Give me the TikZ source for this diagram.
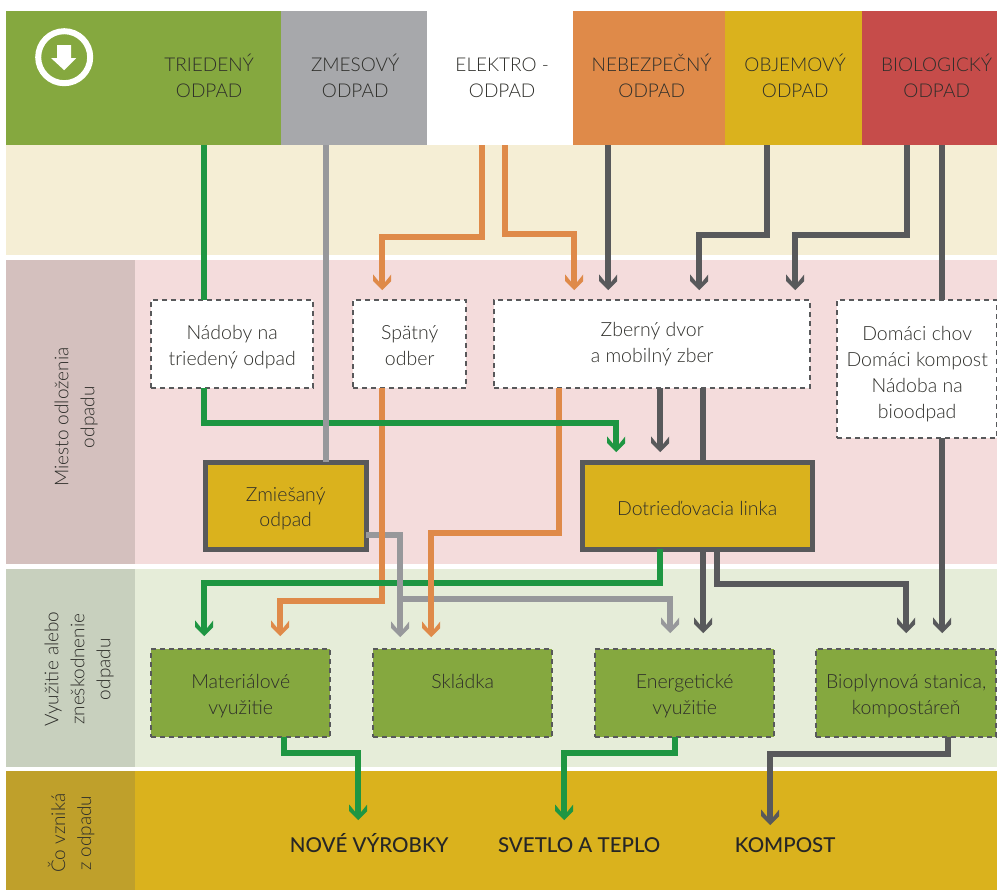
\documentclass[tikz,border=0pt]{standalone}
\usepackage{fontspec}
\setmainfont{Lato}[UprightFont=* Light]
\newfontfamily\strongfont{Lato}[UprightFont=* Medium]
\usetikzlibrary{arrows.meta}
\definecolor{hdrgreen}{HTML}{85A83F}
\definecolor{hdrgrey}{HTML}{A7A8AB}
\definecolor{hdrorange}{HTML}{DF8A49}
\definecolor{hdryellow}{HTML}{DAB21D}
\definecolor{hdrred}{HTML}{C64C4A}
\definecolor{bandcream}{HTML}{F5EED5}
\definecolor{bandpink}{HTML}{F4DCDC}
\definecolor{sidepink}{HTML}{D4C0BE}
\definecolor{bandgreen}{HTML}{E6EDD9}
\definecolor{sidegreen}{HTML}{C8D0BE}
\definecolor{sideyellow}{HTML}{BFA02B}
\definecolor{linegreen}{HTML}{1E9642}
\definecolor{linegrey}{HTML}{97989B}
\definecolor{linedark}{HTML}{58595B}
\definecolor{textdark}{HTML}{2E2E2A}
\pgfdeclarearrow{
    name=Chevron,
    setup code={
        \pgfarrowssettipend{0pt}
        \pgfarrowssetbackend{-15.7pt}
        \pgfarrowssetlineend{-8pt}
        \pgfarrowssetvisualbackend{-8pt}
    },
    drawing code={
        \pgfpathmoveto{\pgfqpoint{0pt}{0pt}}
        \pgfpathlineto{\pgfqpoint{-9pt}{9pt}}
        \pgfpathlineto{\pgfqpoint{-15.7pt}{9pt}}
        \pgfpathlineto{\pgfqpoint{-8.3pt}{3pt}}
        \pgfpathlineto{\pgfqpoint{-8.3pt}{-3pt}}
        \pgfpathlineto{\pgfqpoint{-15.7pt}{-9pt}}
        \pgfpathlineto{\pgfqpoint{-9pt}{-9pt}}
        \pgfpathclose
        \pgfusepathqfill
    }
}
\newcommand{\twolines}[3][16]{\rule{0pt}{#1pt}\smash{#2}\\\smash{#3}}
\begin{document}
\begin{tikzpicture}[x=1pt, y=-1pt,
    flat/.style={inner sep=0, outer sep=0, minimum width=#1},
    hdr/.style={flat=#1, minimum height=134},
    hdrtext/.style={inner sep=0, align=center, text=textdark, font=\fontsize{19}{26}\selectfont},
    band/.style={flat=#1, anchor=west},
    sidetext/.style={rotate=90, align=center, text=textdark, font=\fontsize{19}{26}\selectfont},
    dashbox/.style={flat=#1, draw=linedark, line width=2.4, dash pattern=on 5 off 4, fill=white, minimum height=88, align=center, text=textdark, font=\fontsize{19.5}{26}\selectfont},
    greenbox/.style={dashbox=#1, fill=hdrgreen},
    yellowbox/.style={flat=#1, draw=linedark, line width=5, fill=hdryellow, minimum height=87, align=center, text=textdark, font=\fontsize{19.5}{25}\selectfont},
    product/.style={inner sep=0, outer sep=0, minimum height=30, text height=15, text depth=0, text=black!85, font=\strongfont\fontsize{20.5}{26}\selectfont},
    conn/.style={line width=6},
    arrowed/.style={conn, shorten >=#1, -Chevron},
]
    \useasboundingbox (-0.2,-0.2) rectangle (996.8,889.8);

    \node[hdr=130, fill=hdrgreen] (hdricon) at (71,78) {};
    \node[hdr=145, fill=hdrgreen] (hdrtriedeny) at (208.5,78) {};
    \node[hdr=146, fill=hdrgrey] (hdrzmesovy) at (354,78) {};
    \node[hdr=146] (hdrelektro) at (500,78) {};
    \node[hdr=152, fill=hdrorange] (hdrnebezp) at (649,78) {};
    \node[hdr=137, fill=hdryellow] (hdrobjem) at (793.5,78) {};
    \node[hdr=135, fill=hdrred] (hdrbio) at (929.5,78) {};

    \node[hdrtext] (txttriedeny) at (209,84) {\smash{TRIEDENÝ}\\ODPAD};
    \node[hdrtext] (txtzmesovy) at (355,84) {\smash{ZMESOVÝ}\\ODPAD};
    \node[hdrtext] (txtelektro) at (502,84) {\smash{ELEKTRO -}\\ODPAD};
    \node[hdrtext] (txtnebezp) at (651.5,84) {\smash{NEBEZPEČNÝ}\\ODPAD};
    \node[hdrtext] (txtobjem) at (795,84) {\smash{OBJEMOVÝ}\\ODPAD};
    \node[hdrtext] (txtbio) at (936.5,84) {\smash{BIOLOGICKÝ}\\ODPAD};

    \node[circle, draw=white, line width=6, minimum size=52, inner sep=0] (iconring) at (64,57) {};
    \fill[white] (57,45) -- (71,45) -- (71,58) -- (76,58) -- (64,70) -- (51,58) -- (57,58) -- cycle;

    \node[band=991, fill=bandcream, minimum height=110] (bandtop) at (6,200) {};
    \node[band=862, fill=bandpink, minimum height=304] (bandmiesto) at (135,412) {};
    \node[band=129, fill=sidepink, minimum height=304] (sidemiesto) at (6,412) {};
    \node[band=862, fill=bandgreen, minimum height=198] (bandvyuzitie) at (135,668) {};
    \node[band=129, fill=sidegreen, minimum height=198] (sidevyuzitie) at (6,668) {};
    \node[band=862, fill=hdryellow, minimum height=119] (bandvznika) at (135,830.5) {};
    \node[band=129, fill=sideyellow, minimum height=119] (sidevznika) at (6,830.5) {};

    \node[sidetext] (txtmiesto) at (76,417) {Miesto odloženia\\odpadu};
    \node[sidetext] (txtvyuzitie) at (79,669) {Využitie alebo\\zneškodnenie\\odpadu};
    \node[sidetext] (txtvznika) at (71,833) {Čo vzniká\\z odpadu};

    \node[dashbox=162] (nadoby) at (232,344) {\twolines{Nádoby na}{triedený odpad}};
    \node[dashbox=113] (spatny) at (409.5,344) {\twolines{Spätný}{odber}};
    \node[dashbox=316] (zberny) at (652,344) {\twolines[10]{Zberný dvor}{a mobilný zber}};
    \node[dashbox=160, minimum height=138] (domaci) at (917,369) {\rule{0pt}{24pt}Domáci chov\\Domáci kompost\\Nádoba na\\bioodpad};

    \node[yellowbox=161] (zmiesany) at (285.5,505.5) {\twolines{Zmiešaný}{odpad}};
    \node[yellowbox=230] (dotried) at (697,505.5) {\rule{0pt}{19pt}Dotrieďovacia linka};

    \node[greenbox=179] (material) at (240.5,693) {\twolines{Materiálové}{využitie}};
    \node[greenbox=179] (skladka) at (462.5,693) {\twolines{Skládka}{}};
    \node[greenbox=179] (energia) at (684.5,693) {\twolines{Energetické}{využitie}};
    \node[greenbox=180] (bioplyn) at (906,693) {\twolines{Bioplynová stanica,}{kompostáreň}};

    \node[product] (vyrobky) at (369,845) {NOVÉ VÝROBKY};
    \node[product] (svetlo) at (579,845) {SVETLO A TEPLO};
    \node[product] (kompost) at (785,845) {KOMPOST};

    \draw[conn, linegrey] (zmiesany.east |- 0,535) -- (403,535);
    \draw[arrowed=10, hdrorange] (hdrelektro.south -| 482,0) -- (482,237) -- (382,237) -- (spatny.north -| 382,0);
    \draw[arrowed=10, hdrorange] (hdrelektro.south -| 505,0) -- (505,234) -- (574,234) -- (zberny.north -| 574,0);
    \draw[arrowed=13, hdrorange] (spatny.south -| 382,0) -- (382,601) -- (280,601) -- (material.north -| 280,0);
    \draw[conn, hdrorange] (zberny.south -| 559,0) -- (559,533) -- (428,533);

    \draw[conn, linegreen] (hdrtriedeny.south -| 204,0) -- (nadoby.north -| 204,0);
    \draw[arrowed=10, linegreen] (nadoby.south -| 204,0) -- (204,423) -- (616,423) -- (dotried.north -| 616,0);
    \draw[arrowed=13, linegreen] (dotried.south -| 660,0) -- (660,583) -- (204,583) -- (material.north -| 204,0);
    \draw[arrowed=10, linegreen] (material.south -| 284,0) -- (284,753) -- (358,753) -- (vyrobky.north -| 358,0);
    \draw[arrowed=10, linegreen] (energia.south -| 675,0) -- (675,753) -- (564,753) -- (svetlo.north -| 564,0);

    \draw[conn, linegrey] (hdrzmesovy.south -| 326,0) -- (zmiesany.north -| 326,0);
    \draw[arrowed=12, linegrey] (400,532) -- (skladka.north -| 400,0);
    \draw[arrowed=16, linegrey] (400,599) -- (670,599) -- (energia.north -| 670,0);
    \draw[arrowed=12, hdrorange] (431,530) -- (skladka.north -| 431,0);

    \draw[arrowed=10, linedark] (hdrnebezp.south -| 608,0) -- (zberny.north -| 608,0);
    \draw[arrowed=10, linedark] (hdrobjem.south -| 767,0) -- (767,235) -- (699,235) -- (zberny.north -| 699,0);
    \draw[arrowed=10, linedark] (hdrbio.south -| 907,0) -- (907,235) -- (795,235) -- (zberny.north -| 795,0);
    \draw[conn, linedark] (hdrbio.south -| 942,0) -- (domaci.north -| 942,0);
    \draw[arrowed=16, linedark] (domaci.south -| 942,0) -- (bioplyn.north -| 942,0);
    \draw[arrowed=10, linedark] (zberny.south -| 660,0) -- (dotried.north -| 660,0);
    \draw[conn, linedark] (zberny.south -| 703,0) -- (dotried.north -| 703,0);
    \draw[arrowed=16, linedark] (dotried.south -| 703,0) -- (energia.north -| 703,0);
    \draw[arrowed=16, linedark] (dotried.south -| 717,0) -- (717,584) -- (906,584) -- (bioplyn.north -| 906,0);
    \draw[arrowed=5, linedark] (bioplyn.south -| 948,0) -- (948,754) -- (770,754) -- (kompost.north -| 770,0);
\end{tikzpicture}
\end{document}
